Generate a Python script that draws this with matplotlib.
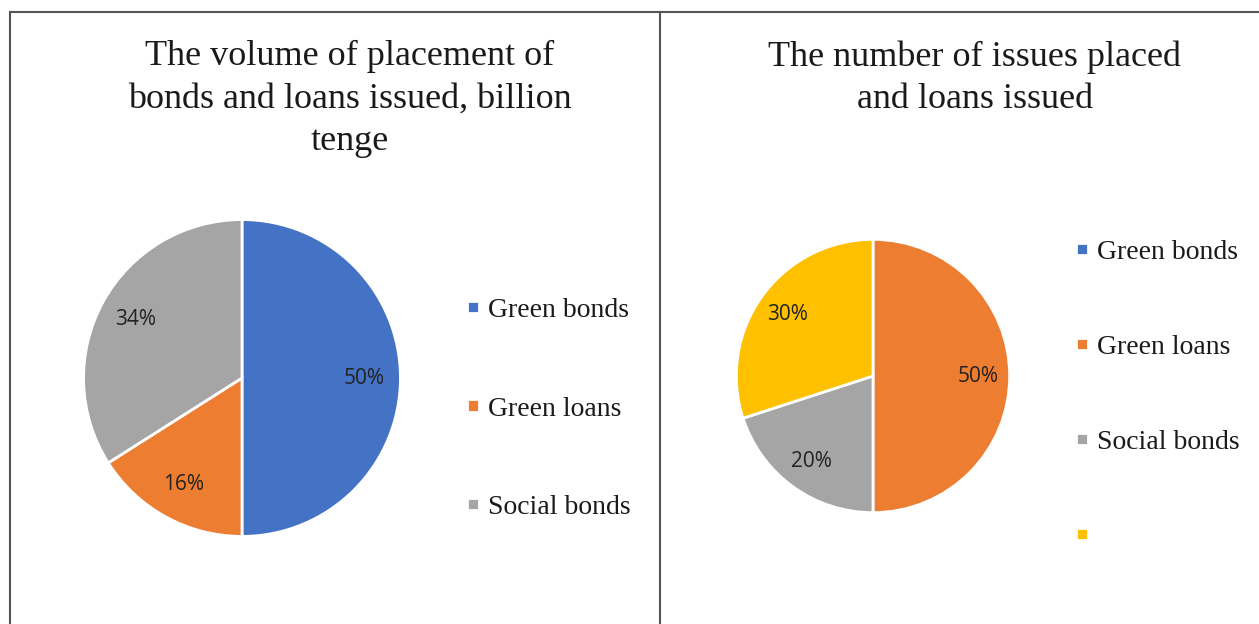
import matplotlib.pyplot as plt
from matplotlib.lines import Line2D

# data
vol_labels = ['Green bonds', 'Green loans', 'Social bonds']
vol_shares = [50, 16, 34]
vol_colors = ['#4472C4', '#ED7D31', '#A5A5A5']

num_labels = ['Green bonds', 'Green loans', 'Social bonds', '']
num_shares = [0, 50, 20, 30]
num_colors = ['#4472C4', '#ED7D31', '#A5A5A5', '#FFC000']

W, H = 1259, 624
fig = plt.figure(figsize=(W / 100, H / 100), dpi=100)
fig.patch.set_facecolor('white')


def px_axes(cx, cy, r):
    # axes box from pixel centre / radius (y measured from top)
    return fig.add_axes([(cx - r) / W, (H - cy - r) / H, 2 * r / W, 2 * r / H])


def pct(v):
    return '' if v == 0 else '%d%%' % round(v)


def draw_pie(ax, shares, colors):
    wedges, texts, autotexts = ax.pie(
        shares, colors=colors, startangle=90, counterclock=False,
        autopct=pct, pctdistance=0.77,
        wedgeprops=dict(edgecolor='white', linewidth=2),
        textprops=dict(fontsize=15, color='#222222', family='Open Sans'))
    ax.set_xlim(-1.01, 1.01)
    ax.set_ylim(-1.01, 1.01)
    return wedges


legend_kw = dict(frameon=False, prop=dict(family='Liberation Serif', size=20),
                 handlelength=0.42, handleheight=0.3, handletextpad=0.35,
                 borderpad=0, borderaxespad=0, labelcolor='#1a1a1a')

# left panel
ax1 = px_axes(242, 378, 160)
w1 = draw_pie(ax1, vol_shares, vol_colors)
fig.text(350 / W, 1 - 99 / H,
         'The volume of placement of\nbonds and loans issued, billion\ntenge',
         ha='center', va='center', fontsize=26, family='Liberation Serif',
         linespacing=1.38, color='#1a1a1a')
fig.legend(w1, vol_labels, loc='center left', bbox_to_anchor=(467 / W, 1 - 409 / H),
           labelspacing=2.65, **legend_kw)

# right panel
ax2 = px_axes(873, 376, 138)
w2 = draw_pie(ax2, num_shares, num_colors)
fig.text(975 / W, 1 - 78 / H,
         'The number of issues placed\nand loans issued',
         ha='center', va='center', fontsize=26, family='Liberation Serif',
         linespacing=1.38, color='#1a1a1a')
fig.legend(w2, num_labels, loc='center left', bbox_to_anchor=(1076 / W, 1 - 395 / H),
           labelspacing=2.52, **legend_kw)

# panel borders
for xs, ys in [([10, W], [12, 12]), ([10, 10], [12, H]), ([660, 660], [12, H])]:
    fig.add_artist(Line2D([x / W for x in xs], [1 - y / H for y in ys],
                          color='#555555', linewidth=1.5))

fig.savefig('out.png', dpi=100)
